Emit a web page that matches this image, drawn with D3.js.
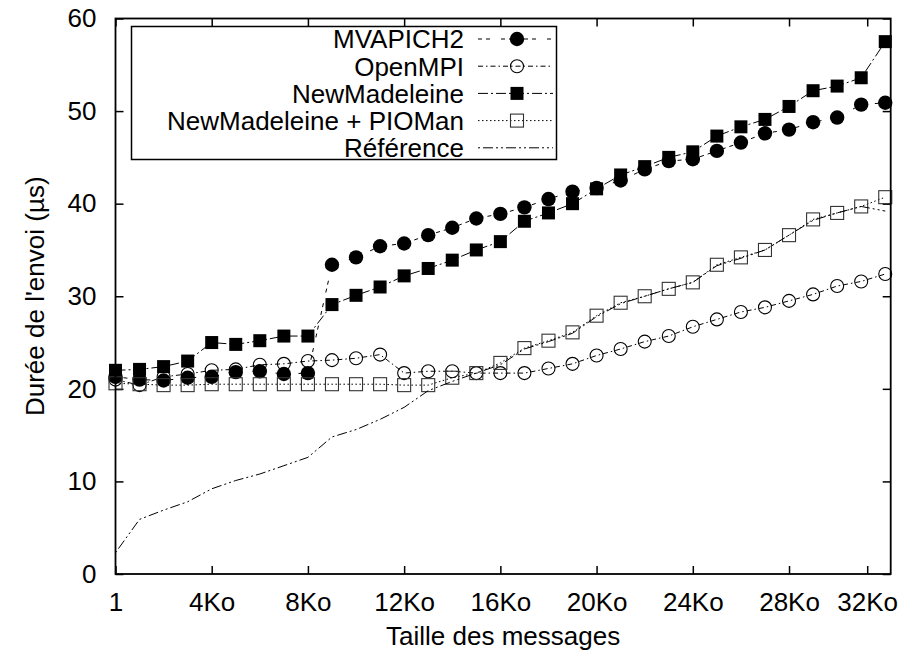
<!DOCTYPE html>
<html><head><meta charset="utf-8">
<script src="https://cdn.jsdelivr.net/npm/d3@7/dist/d3.min.js"></script>
<style>body{margin:0;background:#fff}svg{display:block}text{font-family:"Liberation Sans",Arial,sans-serif;fill:#000}</style>
</head><body><svg id="c" width="901" height="657"></svg>
<script>
const sizes = [1,1024,2048,3072,4096,5120,6144,7168,8192,9216,10240,11264,12288,13312,14336,15360,16384,17408,18432,19456,20480,21504,22528,23552,24576,25600,26624,27648,28672,29696,30720,31744,32768];
const mvapich2 = [21.3,21.0,20.9,21.2,21.3,21.8,21.9,21.6,21.7,33.4,34.2,35.4,35.7,36.6,37.4,38.4,38.9,39.6,40.5,41.3,41.7,42.5,43.7,44.6,44.8,45.7,46.6,47.6,48.0,48.8,49.3,50.7,50.9];
const openmpi = [21.0,20.4,21.3,21.6,22.0,22.1,22.6,22.7,23.0,23.1,23.3,23.7,21.7,21.9,21.9,21.7,21.7,21.7,22.2,22.7,23.6,24.3,25.1,25.7,26.7,27.5,28.3,28.8,29.5,30.2,31.1,31.6,32.4];
const newmad = [22.0,22.1,22.4,23.0,25.0,24.8,25.2,25.7,25.7,29.1,30.1,31.0,32.2,33.0,33.9,35.0,35.9,38.1,39.0,40.0,41.6,43.1,44.0,45.0,45.6,47.3,48.3,49.1,50.5,52.2,52.7,53.6,57.5];
const pioman = [20.6,20.5,20.4,20.4,20.5,20.5,20.5,20.5,20.5,20.5,20.5,20.5,20.4,20.4,21.2,21.7,22.8,24.4,25.2,26.1,27.9,29.3,30.0,30.8,31.5,33.4,34.2,35.0,36.6,38.3,39.0,39.7,40.7];
const reference = [2.3,5.9,6.9,7.8,9.2,10.1,10.8,11.7,12.6,14.8,15.6,16.7,18.0,19.8,20.8,21.7,22.6,24.3,25.1,26.0,27.8,29.2,30.0,30.8,31.5,33.3,34.1,35.0,36.6,38.2,39.0,39.7,39.2];
const seriesNames = ["MVAPICH2","OpenMPI","NewMadeleine","NewMadeleine + PIOMan","Référence"];
const xTickValues = [1,4096,8192,12288,16384,20480,24576,28672,32000];
const xTickLabels = ["1","4Ko","8Ko","12Ko","16Ko","20Ko","24Ko","28Ko","32Ko"];
const yTickValues = [0,10,20,30,40,50,60];

const series = [
  {name: seriesNames[0], values: mvapich2, dash: "4,4,4,11", marker: "fcircle"},
  {name: seriesNames[1], values: openmpi, dash: "5,3,1.5,3", marker: "ocircle"},
  {name: seriesNames[2], values: newmad, dash: "10,3,2,3", marker: "fsquare"},
  {name: seriesNames[3], values: pioman, dash: "1.5,2.5", marker: "osquare"},
  {name: seriesNames[4], values: reference, dash: "2,3,10,3,2,3", marker: null}
];

const L = 115.5, R = 890.7, T = 18.5, B = 574;
const x = d3.scaleLinear().domain([1, 33000]).range([L, R]);
const y = d3.scaleLinear().domain([0, 60]).range([B, T]);
const svg = d3.select("#c");
const FS = 26;

const tickLen = 8;
const gx = svg.append("g").attr("transform", `translate(0,${B})`)
  .call(d3.axisBottom(x).tickValues(xTickValues).tickFormat((d,i)=>xTickLabels[i]).tickSizeInner(-tickLen).tickSizeOuter(0).tickPadding(19));
const gxt = svg.append("g").attr("transform", `translate(0,${T})`)
  .call(d3.axisTop(x).tickValues(xTickValues).tickFormat("").tickSizeInner(-tickLen).tickSizeOuter(0));
const gy = svg.append("g").attr("transform", `translate(${L},0)`)
  .call(d3.axisLeft(y).tickValues(yTickValues).tickSizeInner(-tickLen).tickSizeOuter(0).tickPadding(19));
const gyr = svg.append("g").attr("transform", `translate(${R},0)`)
  .call(d3.axisRight(y).tickValues(yTickValues).tickFormat("").tickSizeInner(-tickLen).tickSizeOuter(0));
[gx,gxt,gy,gyr].forEach(g=>{
  g.select(".domain").remove();
  g.selectAll("line").attr("stroke","#000").attr("stroke-width",1.5);
  g.selectAll("text").attr("font-size",FS).attr("font-family","Liberation Sans, Arial, sans-serif").attr("fill","#000");
});
gx.selectAll("text").attr("dy","0.71em");

const line = d3.line().x((d,i)=>x(sizes[i])).y(d=>y(d));
const plot = svg.append("g");
function marker(g, type, cx, cy) {
  if (type === "fcircle") g.append("circle").attr("cx",cx).attr("cy",cy).attr("r",7.2).attr("fill","#000");
  else if (type === "ocircle") g.append("circle").attr("cx",cx).attr("cy",cy).attr("r",6.5).attr("fill","none").attr("stroke","#000").attr("stroke-width",1.1);
  else if (type === "fsquare") g.append("rect").attr("x",cx-6.5).attr("y",cy-6.5).attr("width",13).attr("height",13).attr("fill","#000");
  else if (type === "osquare") g.append("rect").attr("x",cx-6.5).attr("y",cy-6.5).attr("width",13).attr("height",13).attr("fill","none").attr("stroke","#333").attr("stroke-width",1.1);
}
series.forEach(s=>{
  const g = plot.append("g");
  g.append("path").attr("d", line(s.values)).attr("fill","none").attr("stroke","#000").attr("stroke-width",1).attr("stroke-dasharray", s.dash);
  if (s.marker) s.values.forEach((v,i)=>marker(g, s.marker, x(sizes[i]), y(v)));
});

svg.append("rect").attr("x",L).attr("y",T).attr("width",R-L).attr("height",B-T).attr("fill","none").attr("stroke","#000").attr("stroke-width",1.8);

const lg = svg.append("g");
lg.append("rect").attr("x",131.5).attr("y",26.5).attr("width",425).attr("height",133).attr("fill","#fff").attr("stroke","#000").attr("stroke-width",1.5);
series.forEach((s,i)=>{
  const cy = 39 + i*27.2;
  lg.append("text").attr("x",464).attr("y",cy).attr("dy","0.36em").attr("text-anchor","end").attr("font-size",FS).text(s.name);
  lg.append("line").attr("x1",478).attr("x2",553).attr("y1",cy).attr("y2",cy).attr("stroke","#000").attr("stroke-width",1).attr("stroke-dasharray",s.dash);
  if (s.marker) marker(lg, s.marker, 517, cy);
});

svg.append("text").attr("x",(L+R)/2).attr("y",645).attr("text-anchor","middle").attr("font-size",FS).text("Taille des messages");
svg.append("text").attr("transform",`translate(35,${(T+B)/2}) rotate(-90)`).attr("text-anchor","middle").attr("dy","0.36em").attr("font-size",FS).text("Durée de l'envoi (µs)");
</script></body></html>
